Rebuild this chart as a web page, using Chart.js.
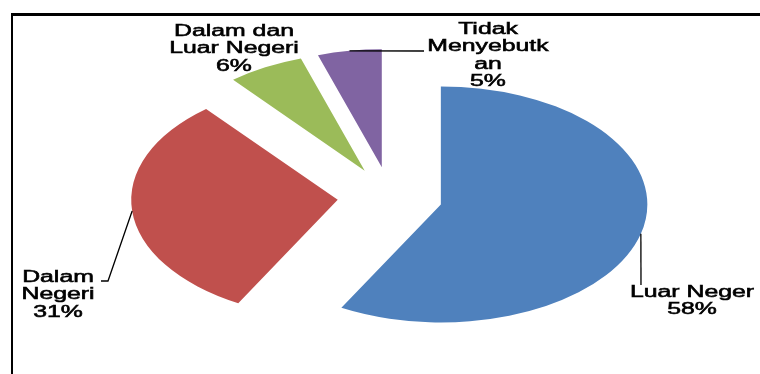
<!DOCTYPE html>
<html>
<head>
<meta charset="utf-8">
<script src="https://cdn.jsdelivr.net/npm/chart.js@4.4.0/dist/chart.umd.min.js"></script>
<style>
  body { margin: 0; background: #fff; }
  #frame {
    position: absolute; left: 11px; top: 13px; width: 749px; height: 361px;
    border-top: 3px solid #000; border-left: 2px solid #000; box-sizing: border-box;
  }
  #chart { position: absolute; left: 0; top: 0; }
</style>
</head>
<body>
<div id="frame"></div>
<canvas id="chart" width="760" height="374"></canvas>
<script>
// slices, clockwise from 12 o'clock
const categories = ["Luar Negeri", "Dalam Negeri", "Dalam dan Luar Negeri", "Tidak Menyebutkan"];
const shares = [58, 31, 6, 5];
const sliceColors = ["#4F81BD", "#C0504D", "#9BBB59", "#8064A2"];
// label text wrapped the way the picture shows it
const labelLines = [["Luar Neger"], ["Dalam", "Negeri"], ["Dalam dan", "Luar Negeri"], ["Tidak", "Menyebutk", "an"]];

// where each label sits (center x, first baseline) and where its leader line ends
const labelSpots = [
    { x: 692, y: 297, leader: [[641, 285]] },
    { x: 58, y: 282, leader: [[108, 281], [101, 281]] },
    { x: 234, y: 36, leader: null },
    { x: 488, y: 34, leader: [[424, 51]] }
];

const stretchX = 1.75;    // pie is squashed into an ellipse
const explode = 30;       // every slice pulled out by this much
const textStretch = 1.55; // text is wide too
const lineGap = 17.3;

// draw the slices ourselves: stretched + exploded
const ellipsePie = {
    id: 'ellipsePie',
    beforeDatasetsDraw(chart) {
        const ctx = chart.ctx;
        chart.getDatasetMeta(0).data.forEach(function(arc) {
            const mid = (arc.startAngle + arc.endAngle) / 2;
            ctx.save();
            ctx.translate(arc.x, arc.y);
            ctx.scale(stretchX, 1);
            ctx.translate(Math.cos(mid) * explode, Math.sin(mid) * explode);
            ctx.translate(-arc.x, -arc.y);
            arc.draw(ctx);
            ctx.restore();
        });
        return false;
    }
};

// labels + leader lines
const pieLabels = {
    id: 'pieLabels',
    afterDraw(chart) {
        const ctx = chart.ctx;
        const arcs = chart.getDatasetMeta(0).data;
        ctx.save();
        arcs.forEach(function(arc, i) {
            const spot = labelSpots[i];
            if (spot.leader) {
                const mid = (arc.startAngle + arc.endAngle) / 2;
                const r = arc.outerRadius + explode;
                ctx.strokeStyle = '#000';
                ctx.lineWidth = 1.3;
                ctx.beginPath();
                ctx.moveTo(arc.x + Math.cos(mid) * r * stretchX, arc.y + Math.sin(mid) * r);
                spot.leader.forEach(function(p) { ctx.lineTo(p[0], p[1]); });
                ctx.stroke();
            }
            const lines = labelLines[i].concat([shares[i] + "%"]);
            ctx.fillStyle = '#000';
            ctx.strokeStyle = '#000';
            ctx.lineWidth = 0.55;
            ctx.font = '16px "Liberation Sans", Arial, sans-serif';
            ctx.textAlign = 'center';
            ctx.textBaseline = 'alphabetic';
            lines.forEach(function(line, k) {
                ctx.save();
                ctx.translate(spot.x, spot.y + k * lineGap);
                ctx.scale(textStretch, 1);
                ctx.fillText(line, 0, 0);
                ctx.strokeText(line, 0, 0);
                ctx.restore();
            });
        });
        ctx.restore();
    }
};

new Chart(document.getElementById('chart'), {
    type: 'pie',
    data: {
        labels: categories,
        datasets: [{
            data: shares,
            backgroundColor: sliceColors,
            borderWidth: 0,
            offset: 0,
            hoverOffset: 0,
            radius: 118
        }]
    },
    options: {
        responsive: false,
        animation: false,
        events: [],
        layout: { padding: { left: 20, top: 20 } },
        plugins: {
            legend: { display: false },
            tooltip: { enabled: false }
        }
    },
    plugins: [ellipsePie, pieLabels]
});
</script>
</body>
</html>
